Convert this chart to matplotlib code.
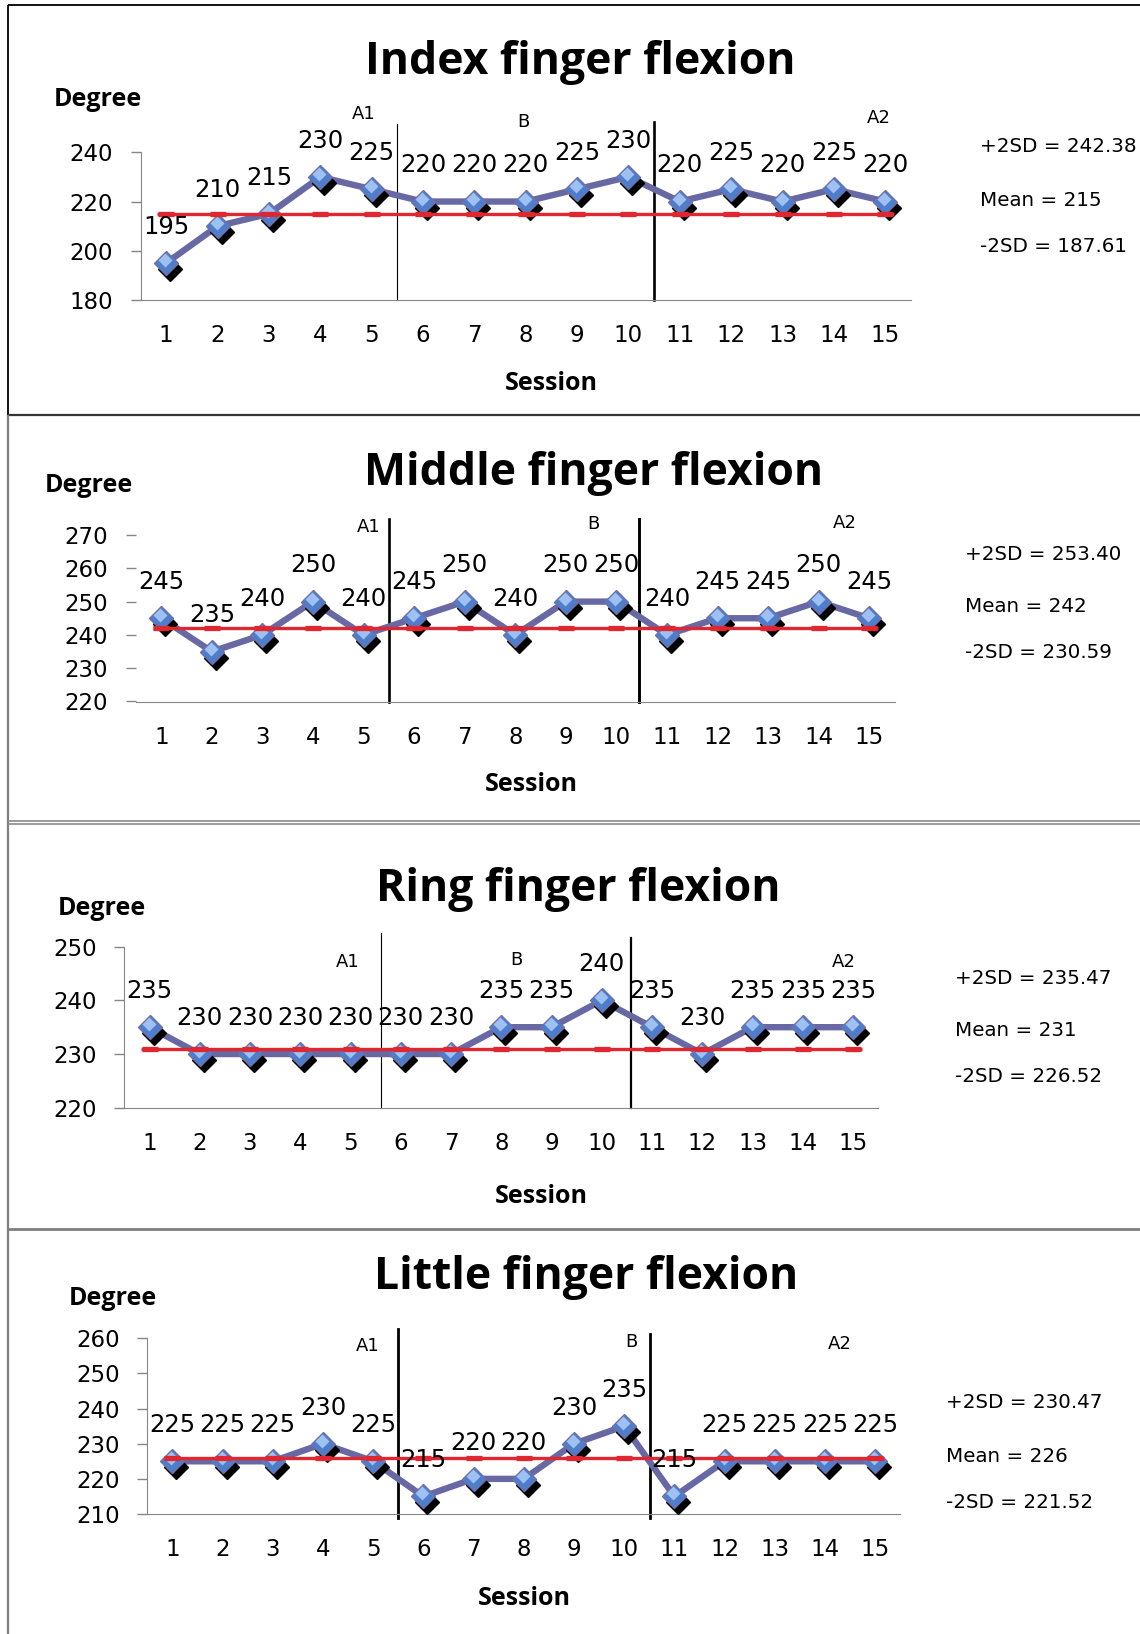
import numpy as np
import matplotlib
matplotlib.use("Agg")
import matplotlib.pyplot as plt
from matplotlib import transforms
from matplotlib.lines import Line2D

W, H = 1140, 1634

sessions = list(range(1, 16))
phase_names = ["A1", "B", "A2"]

titles = ["Index finger flexion", "Middle finger flexion",
          "Ring finger flexion", "Little finger flexion"]

index_deg = [195, 210, 215, 230, 225, 220, 220, 220, 225, 230, 220, 225, 220, 225, 220]
middle_deg = [245, 235, 240, 250, 240, 245, 250, 240, 250, 250, 240, 245, 245, 250, 245]
ring_deg = [235, 230, 230, 230, 230, 230, 230, 235, 235, 240, 235, 230, 235, 235, 235]
little_deg = [225, 225, 225, 230, 225, 215, 220, 220, 230, 235, 215, 225, 225, 225, 225]

means = [215, 242, 231, 226]
plus_2sd = [242.38, 253.40, 235.47, 230.47]
minus_2sd = [187.61, 230.59, 226.52, 221.52]

y_ranges = [(180, 240, 20), (220, 270, 10), (220, 250, 10), (210, 260, 10)]

# layout of each chart block, in pixels
panels = [
    dict(box=(140.5, 152.3, 911, 300), title=(580, 74), degree=(54, 106), session=(551, 390),
         stats=[(980, 147), (980, 200), (980, 246)],
         bounds=[(5.5, 1.19, 0.8), (10.5, 1.205, 1.9)], bound_bottom=0.0,
         labels=[(4.84, 1.259), (7.95, 1.205), (14.88, 1.232)], yspine=True),
    dict(box=(136, 535, 894.5, 701.5), title=(594, 485), degree=(45, 492.5), session=(531, 791.5),
         stats=[(965, 554), (965, 606.5), (965, 652)],
         bounds=[(5.5, 1.096, 1.9), (10.45, 1.096, 2.1)], bound_bottom=0.0,
         labels=[(5.11, 1.05), (9.54, 1.066), (14.52, 1.074)], yspine=False),
    dict(box=(124.4, 946.7, 878.3, 1107.7), title=(578, 901.5), degree=(58, 915), session=(541, 1203),
         stats=[(955, 978), (955, 1030), (955, 1076.5)],
         bounds=[(5.6, 1.085, 0.8), (10.57, 1.054, 1.6)], bound_bottom=0.0,
         labels=[(4.95, 0.907), (8.30, 0.917), (14.81, 0.907)], yspine=True),
    dict(box=(147.3, 1338.3, 900.3, 1514), title=(586, 1289), degree=(69, 1305), session=(524, 1605),
         stats=[(946, 1403), (946, 1456.5), (946, 1502.5)],
         bounds=[(5.5, 1.051, 2.0), (10.52, 1.024, 2.0)], bound_bottom=-0.02,
         labels=[(4.90, 0.956), (10.14, 0.981), (14.30, 0.968)], yspine=True),
]

series = [index_deg, middle_deg, ring_deg, little_deg]

LINE_COLOR = "#6868A4"
MARKER_FACE = "#4E7DCB"
MARKER_LIGHT = "#9EC1F2"
MARKER_EDGE = "#6F70AA"
MEAN_COLOR = "#E0262F"
AXIS_GRAY = "#868686"
BOLD_FONT = ["Open Sans", "DejaVu Sans"]

fig = plt.figure(figsize=(W / 100, H / 100), dpi=100)
fig.patch.set_facecolor("white")


def fx(px):
    return px / W


def fy(py):
    return 1 - py / H


def frame_line(x0, y0, x1, y1, color, lw):
    fig.add_artist(Line2D([fx(x0), fx(x1)], [fy(y0), fy(y1)], transform=fig.transFigure,
                          color=color, lw=lw, solid_capstyle="butt"))


for i, cfg in enumerate(panels):
    left, top, right, bottom = cfg["box"]
    ax = fig.add_axes([fx(left), fy(bottom), (right - left) / W, (bottom - top) / H])
    ax.patch.set_alpha(0)
    lo, hi, step = y_ranges[i]
    vals = series[i]

    ax.set_xlim(0.5, 15.5)
    ax.set_ylim(lo, hi)
    ax.set_xticks(sessions)
    ax.set_yticks(np.arange(lo, hi + 1, step))
    for side in ["top", "right"]:
        ax.spines[side].set_visible(False)
    ax.spines["bottom"].set_color(AXIS_GRAY)
    ax.spines["left"].set_color(AXIS_GRAY)
    ax.spines["left"].set_visible(cfg["yspine"])
    ax.tick_params(axis="y", length=7, width=1, color=AXIS_GRAY, pad=13, labelsize=16.5)
    ax.tick_params(axis="x", length=0, pad=17.5, labelsize=16.5)

    # data series with drop shadow under the diamonds
    shadow = transforms.offset_copy(ax.transData, fig=fig, x=4, y=-6, units="dots")
    shine = transforms.offset_copy(ax.transData, fig=fig, x=-1, y=3, units="dots")
    ax.plot(sessions, vals, color=LINE_COLOR, lw=4.6, zorder=3, solid_joinstyle="round")
    ax.plot(sessions, vals, "D", ms=12, color="black", transform=shadow, zorder=3.5, clip_on=False)
    ax.plot(sessions, vals, "D", ms=12, mfc=MARKER_FACE, mec=MARKER_EDGE, mew=1,
            zorder=4, clip_on=False)
    ax.plot(sessions, vals, "D", ms=7, mfc=MARKER_LIGHT, mec="none", transform=shine,
            zorder=4.2, clip_on=False)

    # mean line
    m = means[i]
    ax.plot([0.83, 15.17], [m, m], color=MEAN_COLOR, lw=2.4, zorder=5, solid_capstyle="butt")
    ax.plot(sessions, [m] * len(sessions), ls="none", marker="_", ms=11, mew=3.8,
            color=MEAN_COLOR, zorder=5)

    for x, v in zip(sessions, vals):
        ax.annotate(f"{v}", (x, v), xytext=(0, 26), textcoords="offset points",
                    ha="center", va="center", fontsize=17.5, zorder=6, annotation_clip=False)

    # phase change lines and phase names
    xt = ax.get_xaxis_transform()
    for bx, btop, blw in cfg["bounds"]:
        ax.plot([bx, bx], [cfg["bound_bottom"], btop], transform=xt, color="black",
                lw=blw, clip_on=False, zorder=2)
    for name, (lx, ly) in zip(phase_names, cfg["labels"]):
        ax.text(lx, ly, name, transform=xt, ha="center", va="center", fontsize=13)

    tx, ty = cfg["title"]
    fig.text(fx(tx), fy(ty), titles[i], ha="center", va="baseline", fontsize=32,
             fontweight="bold", family=BOLD_FONT)
    dx, dy = cfg["degree"]
    fig.text(fx(dx), fy(dy), "Degree", ha="left", va="baseline", fontsize=18,
             fontweight="bold", family=BOLD_FONT)
    sx, sy = cfg["session"]
    fig.text(fx(sx), fy(sy), "Session", ha="center", va="baseline", fontsize=18,
             fontweight="bold", family=BOLD_FONT)

    stat_texts = [f"+2SD = {plus_2sd[i]:.2f}", f"Mean = {m}", f"-2SD = {minus_2sd[i]:.2f}"]
    for (px, py), s in zip(cfg["stats"], stat_texts):
        fig.text(fx(px), fy(py), s, ha="left", va="center", fontsize=14.3)

# block frames
frame_line(8, 5, 1140, 5, "black", 1.3)
frame_line(8, 5, 8, 415, "black", 1.3)
frame_line(8, 415, 1140, 415, "#333333", 1.6)
frame_line(8, 415, 8, 1634, "#7F7F7F", 1.6)
frame_line(8, 821, 1140, 821, "#8A8A8A", 1.2)
frame_line(8, 824, 1140, 824, "#8A8A8A", 1.2)
frame_line(8, 1228.5, 1140, 1228.5, "#7F7F7F", 2.0)

fig.savefig("out.png", dpi=100)
